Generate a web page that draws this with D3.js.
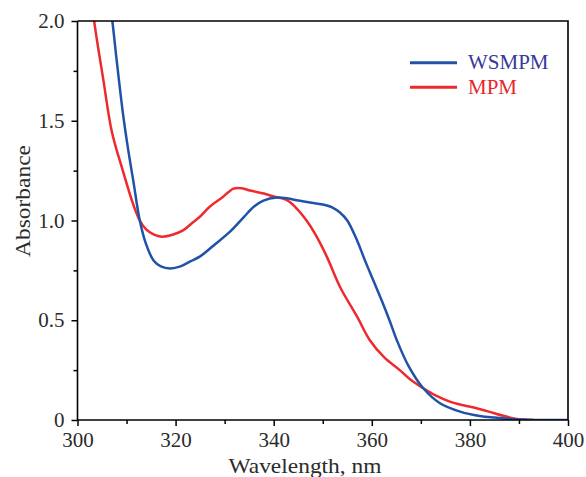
<!DOCTYPE html>
<html>
<head>
<meta charset="utf-8">
<script src="https://cdn.jsdelivr.net/npm/d3@7"></script>
<style>
  body { margin: 0; background: #fff; }
  svg text { font-family: "Liberation Serif", "Times New Roman", Tinos, serif; fill: #2b2b2b; }
</style>
</head>
<body>
<div id="chart"></div>
<script>
// WSMPM curve (blue)
var wsmpmNm = [306.5, 307.1, 308, 309.3, 310.3, 311.4, 312.7, 314, 315.5, 317, 318.9, 321, 323, 325, 328, 331.1, 334, 336, 337.9, 340.6, 343, 345, 347.4, 350, 352, 353.5, 355, 357, 358.6, 360.3, 362, 363.6, 365.1, 367.5, 370.5, 373.9, 378, 382, 385, 390, 395, 400];
var wsmpmAbs = [2.1, 2.0, 1.80, 1.53, 1.36, 1.195, 1.0, 0.88, 0.80, 0.77, 0.76, 0.77, 0.795, 0.82, 0.88, 0.944, 1.02, 1.07, 1.10, 1.115, 1.11, 1.10, 1.09, 1.08, 1.065, 1.04, 1.0, 0.90, 0.80, 0.70, 0.60, 0.50, 0.40, 0.27, 0.159, 0.084, 0.042, 0.02, 0.012, 0.003, 0.0, 0.0];

// MPM curve (red)
var mpmNm = [303.0, 303.4, 305.3, 307.0, 309.3, 311.4, 312.7, 314, 315.5, 317.2, 319.5, 321.6, 323.5, 325, 327, 329.5, 331.8, 333.5, 335.2, 338, 340, 342.6, 344.5, 346.7, 348.5, 350.8, 353.5, 357, 359.6, 362.5, 365.7, 368, 370.5, 373, 375.9, 378, 382.1, 384.8, 387, 389, 391, 393];
var mpmAbs = [2.1, 2.0, 1.70, 1.445, 1.245, 1.078, 1.0, 0.955, 0.93, 0.919, 0.93, 0.952, 0.99, 1.02, 1.07, 1.115, 1.16, 1.162, 1.15, 1.135, 1.12, 1.103, 1.065, 1.0, 0.93, 0.82, 0.668, 0.518, 0.40, 0.315, 0.25, 0.20, 0.159, 0.123, 0.092, 0.078, 0.054, 0.035, 0.02, 0.008, 0.002, 0.0];

var seriesNames = ["WSMPM", "MPM"];
var xTicks = [300, 320, 340, 360, 380, 400];
var yTicks = [0, 0.5, 1.0, 1.5, 2.0];

var W = 586, H = 477;
var margin = {top: 21, right: 18, bottom: 57, left: 77.5};
var w = W - margin.left - margin.right;
var h = H - margin.top - margin.bottom;

var svg = d3.select("#chart").append("svg")
    .attr("width", W)
    .attr("height", H);

var g = svg.append("g")
    .attr("transform", "translate(" + margin.left + "," + margin.top + ")");

var x = d3.scaleLinear().domain([300, 400]).range([0, w]);
var y = d3.scaleLinear().domain([0, 2]).range([h, 0]);

g.append("clipPath").attr("id", "clip")
  .append("rect").attr("width", w).attr("height", h);

var line = d3.line()
    .x(function(d) { return x(d[0]); })
    .y(function(d) { return y(d[1]); })
    .curve(d3.curveCatmullRom.alpha(0.5));

var blueData = d3.zip(wsmpmNm, wsmpmAbs);
var redData = d3.zip(mpmNm, mpmAbs);

// red drawn first, blue on top
g.append("path")
    .datum(redData)
    .attr("clip-path", "url(#clip)")
    .attr("fill", "none")
    .attr("stroke", "#ee2a2e")
    .attr("stroke-width", 2.5)
    .attr("d", line);

g.append("path")
    .datum(blueData)
    .attr("clip-path", "url(#clip)")
    .attr("fill", "none")
    .attr("stroke", "#2053a8")
    .attr("stroke-width", 2.5)
    .attr("d", line);

// minor ticks
var xMinor = g.append("g")
    .attr("transform", "translate(0," + h + ")")
    .call(d3.axisBottom(x).tickValues(d3.range(310, 400, 20)).tickSize(4).tickFormat(""));
var yMinor = g.append("g")
    .call(d3.axisLeft(y).tickValues([0.25, 0.75, 1.25, 1.75]).tickSize(4).tickFormat(""));

// major axes
var xAxis = g.append("g")
    .attr("transform", "translate(0," + h + ")")
    .call(d3.axisBottom(x).tickValues(xTicks).tickSize(6).tickPadding(6));
var yAxis = g.append("g")
    .call(d3.axisLeft(y).tickValues(yTicks).tickSize(6).tickPadding(7)
      .tickFormat(function(d) { return d === 0 ? "0" : d3.format(".1f")(d); }));

[xMinor, yMinor, xAxis, yAxis].forEach(function(a) {
    a.attr("font-family", null);
    a.select(".domain").attr("stroke", "#000").attr("stroke-width", 1.6);
    a.selectAll(".tick line").attr("stroke", "#000").attr("stroke-width", 1.5);
    a.selectAll("text").attr("font-size", 21).attr("fill", "#2b2b2b");
});
xMinor.select(".domain").remove();
yMinor.select(".domain").remove();
xAxis.select(".domain").attr("d", "M0,0H" + w);
yAxis.select(".domain").attr("d", "M0," + h + "V0");

// top and right frame
g.append("path")
    .attr("d", "M0,0H" + w + "V" + h)
    .attr("fill", "none")
    .attr("stroke", "#000")
    .attr("stroke-width", 1.6);

// axis titles
svg.append("text")
    .attr("x", 305)
    .attr("y", 473)
    .attr("text-anchor", "middle")
    .attr("font-size", 22)
    .attr("textLength", 153)
    .attr("lengthAdjust", "spacingAndGlyphs")
    .text("Wavelength, nm");

svg.append("text")
    .attr("transform", "translate(30,201) rotate(-90)")
    .attr("text-anchor", "middle")
    .attr("font-size", 22)
    .attr("textLength", 112)
    .attr("lengthAdjust", "spacingAndGlyphs")
    .text("Absorbance");

// legend
var legendColors = ["#2053a8", "#ee2a2e"];
var textColors = ["#36399a", "#e8262b"];
var legend = svg.selectAll(".legend")
    .data(seriesNames)
    .enter()
    .append("g")
    .attr("class", "legend")
    .attr("transform", function(d, i) { return "translate(410," + (62.7 + i * 24.5) + ")"; });

legend.append("line")
    .attr("x1", 0).attr("x2", 47)
    .attr("stroke", function(d, i) { return legendColors[i]; })
    .attr("stroke-width", 3);

legend.append("text")
    .attr("x", 58)
    .attr("y", 6.5)
    .attr("font-size", 21)
    .style("fill", function(d, i) { return textColors[i]; })
    .text(function(d) { return d; });
</script>
</body>
</html>
